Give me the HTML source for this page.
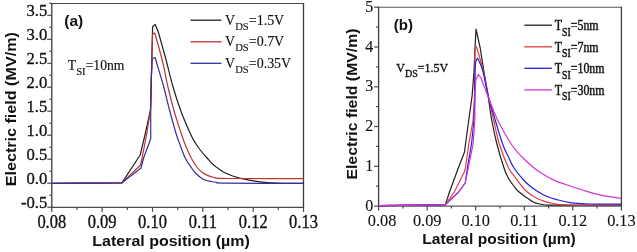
<!DOCTYPE html>
<html><head><meta charset="utf-8"><style>
html,body{margin:0;padding:0;background:#fff;width:637px;height:252px;overflow:hidden}
svg{display:block;-webkit-font-smoothing:antialiased;filter:blur(0.25px)}
.tk{font-family:"Liberation Serif",serif;font-size:16px;fill:#111;stroke:#111;stroke-width:0.3px}
.ax{font-family:"Liberation Sans",sans-serif;font-weight:bold;font-size:15px;fill:#111}
.lbl{font-family:"Liberation Sans",sans-serif;font-weight:bold;font-size:15px;fill:#111}
.lg{font-family:"Liberation Serif",serif;font-size:14.5px;fill:#111;stroke:#111;stroke-width:0.25px}
.lg2{font-family:"Liberation Serif",serif;font-size:13px;fill:#1a1a1a}
.sub{font-size:10px}
</style></head><body>
<svg width="637" height="252" viewBox="0 0 637 252">
<rect width="637" height="252" fill="#fff"/>
<path d="M51.199999999999996,3.55 H304.1 M51.199999999999996,207.4 H304.1" stroke="#4a4a4a" stroke-width="1.1" fill="none"/>
<path d="M51.8,2.9 V207.9 M303.5,2.9 V207.9" stroke="#3c3c3c" stroke-width="1.3" fill="none"/>
<line x1="47.3" y1="207.2" x2="51.8" y2="207.2" stroke="#484848" stroke-width="1.2"/>
<line x1="47.3" y1="183.2" x2="51.8" y2="183.2" stroke="#484848" stroke-width="1.2"/>
<line x1="47.3" y1="159.2" x2="51.8" y2="159.2" stroke="#484848" stroke-width="1.2"/>
<line x1="47.3" y1="135.2" x2="51.8" y2="135.2" stroke="#484848" stroke-width="1.2"/>
<line x1="47.3" y1="111.2" x2="51.8" y2="111.2" stroke="#484848" stroke-width="1.2"/>
<line x1="47.3" y1="87.2" x2="51.8" y2="87.2" stroke="#484848" stroke-width="1.2"/>
<line x1="47.3" y1="63.3" x2="51.8" y2="63.3" stroke="#484848" stroke-width="1.2"/>
<line x1="47.3" y1="39.3" x2="51.8" y2="39.3" stroke="#484848" stroke-width="1.2"/>
<line x1="47.3" y1="15.3" x2="51.8" y2="15.3" stroke="#484848" stroke-width="1.2"/>
<line x1="49.3" y1="195.2" x2="51.8" y2="195.2" stroke="#484848" stroke-width="1.2"/>
<line x1="49.3" y1="171.2" x2="51.8" y2="171.2" stroke="#484848" stroke-width="1.2"/>
<line x1="49.3" y1="147.2" x2="51.8" y2="147.2" stroke="#484848" stroke-width="1.2"/>
<line x1="49.3" y1="123.2" x2="51.8" y2="123.2" stroke="#484848" stroke-width="1.2"/>
<line x1="49.3" y1="99.2" x2="51.8" y2="99.2" stroke="#484848" stroke-width="1.2"/>
<line x1="49.3" y1="75.3" x2="51.8" y2="75.3" stroke="#484848" stroke-width="1.2"/>
<line x1="49.3" y1="51.3" x2="51.8" y2="51.3" stroke="#484848" stroke-width="1.2"/>
<line x1="49.3" y1="27.3" x2="51.8" y2="27.3" stroke="#484848" stroke-width="1.2"/>
<line x1="49.3" y1="3.3" x2="51.8" y2="3.3" stroke="#484848" stroke-width="1.2"/>
<text transform="translate(47.2,208.0) scale(1.04,1.1)" text-anchor="end" class="tk">-0.5</text>
<text transform="translate(47.2,184.0) scale(1.04,1.1)" text-anchor="end" class="tk">0.0</text>
<text transform="translate(47.2,160.0) scale(1.04,1.1)" text-anchor="end" class="tk">0.5</text>
<text transform="translate(47.2,136.0) scale(1.04,1.1)" text-anchor="end" class="tk">1.0</text>
<text transform="translate(47.2,112.0) scale(1.04,1.1)" text-anchor="end" class="tk">1.5</text>
<text transform="translate(47.2,88.0) scale(1.04,1.1)" text-anchor="end" class="tk">2.0</text>
<text transform="translate(47.2,64.1) scale(1.04,1.1)" text-anchor="end" class="tk">2.5</text>
<text transform="translate(47.2,40.1) scale(1.04,1.1)" text-anchor="end" class="tk">3.0</text>
<text transform="translate(47.2,16.1) scale(1.04,1.1)" text-anchor="end" class="tk">3.5</text>
<line x1="51.8" y1="207.4" x2="51.8" y2="211.9" stroke="#484848" stroke-width="1.2"/>
<line x1="102.1" y1="207.4" x2="102.1" y2="211.9" stroke="#484848" stroke-width="1.2"/>
<line x1="152.5" y1="207.4" x2="152.5" y2="211.9" stroke="#484848" stroke-width="1.2"/>
<line x1="202.8" y1="207.4" x2="202.8" y2="211.9" stroke="#484848" stroke-width="1.2"/>
<line x1="253.2" y1="207.4" x2="253.2" y2="211.9" stroke="#484848" stroke-width="1.2"/>
<line x1="303.5" y1="207.4" x2="303.5" y2="211.9" stroke="#484848" stroke-width="1.2"/>
<line x1="77.0" y1="207.4" x2="77.0" y2="209.9" stroke="#484848" stroke-width="1.2"/>
<line x1="127.3" y1="207.4" x2="127.3" y2="209.9" stroke="#484848" stroke-width="1.2"/>
<line x1="177.7" y1="207.4" x2="177.7" y2="209.9" stroke="#484848" stroke-width="1.2"/>
<line x1="228.0" y1="207.4" x2="228.0" y2="209.9" stroke="#484848" stroke-width="1.2"/>
<line x1="278.3" y1="207.4" x2="278.3" y2="209.9" stroke="#484848" stroke-width="1.2"/>
<text transform="translate(51.8,227.6) scale(1.03,1.125)" text-anchor="middle" class="tk">0.08</text>
<text transform="translate(102.1,227.6) scale(1.03,1.125)" text-anchor="middle" class="tk">0.09</text>
<text transform="translate(152.5,227.6) scale(1.03,1.125)" text-anchor="middle" class="tk">0.10</text>
<text transform="translate(202.8,227.6) scale(1.03,1.125)" text-anchor="middle" class="tk">0.11</text>
<text transform="translate(253.2,227.6) scale(1.03,1.125)" text-anchor="middle" class="tk">0.12</text>
<text transform="translate(303.5,227.6) scale(1.03,1.125)" text-anchor="middle" class="tk">0.13</text>
<text x="92.3" y="246" class="ax" textLength="157.5" lengthAdjust="spacingAndGlyphs">Lateral position (µm)</text>
<text transform="translate(15.6,186.3) rotate(-90)" class="ax" textLength="154.2" lengthAdjust="spacingAndGlyphs">Electric field (MV/m)</text>
<text x="64.3" y="26.4" class="lbl" style="font-size:15.5px">(a)</text>
<text transform="translate(67.8,70.3) scale(0.975,1)" class="lg" style="font-size:14px;stroke-width:0.15px">T<tspan style="font-size:11px" dy="4.4">SI</tspan><tspan dy="-4.4">=10nm</tspan></text>
<line x1="190.5" y1="20.2" x2="221.5" y2="20.2" stroke="#202020" stroke-width="1.3"/>
<text transform="translate(225.1,24.6) scale(0.965,1)" class="lg" style="font-size:14.5px;stroke-width:0.12px">V<tspan style="font-size:11px" dy="5">DS</tspan><tspan dy="-5">=1.5V</tspan></text>
<line x1="190.5" y1="41.8" x2="221.5" y2="41.8" stroke="#bc3434" stroke-width="1.3"/>
<text transform="translate(225.1,46.1) scale(0.965,1)" class="lg" style="font-size:14.5px;stroke-width:0.12px">V<tspan style="font-size:11px" dy="5">DS</tspan><tspan dy="-5">=0.7V</tspan></text>
<line x1="190.5" y1="63.3" x2="221.5" y2="63.3" stroke="#30309a" stroke-width="1.3"/>
<text transform="translate(225.1,67.7) scale(0.965,1)" class="lg" style="font-size:14.5px;stroke-width:0.12px">V<tspan style="font-size:11px" dy="5">DS</tspan><tspan dy="-5">=0.35V</tspan></text>
<path d="M51.80,183.40 L88.00,183.20 L121.90,182.90 L140.20,155.00 L145.20,134.00 L150.50,110.00 L151.30,80.00 L152.60,26.70 L155.20,24.40 L158.30,32.00 C158.58,33.00 158.62,33.00 160.00,38.00 C161.38,43.00 164.47,54.00 166.60,62.00 C168.73,70.00 170.48,78.00 172.80,86.00 C175.12,94.00 177.55,102.00 180.50,110.00 C183.45,118.00 187.97,128.42 190.50,134.00 C193.03,139.58 193.95,140.67 195.70,143.50 C197.45,146.33 199.10,148.58 201.00,151.00 C202.90,153.42 205.27,155.92 207.10,158.00 C208.93,160.08 210.25,161.83 212.00,163.50 C213.75,165.17 215.77,166.62 217.60,168.00 C219.43,169.38 221.02,170.68 223.00,171.80 C224.98,172.92 227.33,173.83 229.50,174.70 C231.67,175.57 233.92,176.35 236.00,177.00 C238.08,177.65 238.33,177.83 242.00,178.60 C245.67,179.37 252.33,180.85 258.00,181.60 C263.67,182.35 268.42,182.82 276.00,183.10 C283.58,183.38 298.92,183.27 303.50,183.30" fill="none" stroke="#202020" stroke-width="1.2" stroke-linejoin="round"/>
<path d="M51.80,183.40 L88.00,183.20 L121.90,182.90 L140.50,165.00 L142.10,158.00 L146.70,134.00 L150.50,110.00 L151.30,80.00 L152.20,45.00 L152.60,34.20 L154.70,32.90 L156.20,38.00 C157.28,42.00 160.78,54.00 162.70,62.00 C164.62,70.00 165.85,78.00 167.70,86.00 C169.55,94.00 171.52,102.00 173.80,110.00 C176.08,118.00 179.42,128.00 181.40,134.00 C183.38,140.00 184.07,142.00 185.70,146.00 C187.33,150.00 189.22,154.33 191.20,158.00 C193.18,161.67 195.72,165.58 197.60,168.00 C199.48,170.42 200.75,171.23 202.50,172.50 C204.25,173.77 206.18,174.77 208.10,175.60 C210.02,176.43 212.18,177.05 214.00,177.50 C215.82,177.95 216.33,178.13 219.00,178.30 C221.67,178.47 215.92,178.45 230.00,178.50 C244.08,178.55 291.25,178.58 303.50,178.60" fill="none" stroke="#bc3434" stroke-width="1.2" stroke-linejoin="round"/>
<path d="M51.80,183.40 L88.00,183.20 L121.90,182.90 L141.00,168.00 L143.60,158.00 L150.70,138.80 L150.70,110.00 L151.30,80.00 L152.20,58.50 L155.20,57.60 L156.40,62.00 C157.58,66.00 161.32,78.00 163.50,86.00 C165.68,94.00 167.38,102.00 169.50,110.00 C171.62,118.00 174.37,128.00 176.20,134.00 C178.03,140.00 179.00,142.00 180.50,146.00 C182.00,150.00 183.30,154.25 185.20,158.00 C187.10,161.75 190.10,165.92 191.90,168.50 C193.70,171.08 194.57,172.00 196.00,173.50 C197.43,175.00 199.00,176.42 200.50,177.50 C202.00,178.58 203.25,179.33 205.00,180.00 C206.75,180.67 208.90,181.08 211.00,181.50 C213.10,181.92 215.27,182.22 217.60,182.50 C219.93,182.78 210.68,183.07 225.00,183.20 C239.32,183.33 290.42,183.28 303.50,183.30" fill="none" stroke="#30309a" stroke-width="1.2" stroke-linejoin="round"/>
<path d="M378.0,7.20 H622.0 M378.0,206.10 H622.0" stroke="#5a5a5a" stroke-width="1.1" fill="none"/>
<path d="M378.6,6.70 V206.60 M621.4,6.70 V206.60" stroke="#3c3c3c" stroke-width="1.3" fill="none"/>
<line x1="374.1" y1="206.1" x2="378.6" y2="206.1" stroke="#484848" stroke-width="1.2"/>
<text transform="translate(373.3,210.7) scale(1.0,1.07)" text-anchor="end" class="tk" style="stroke-width:0.1px">0</text>
<line x1="374.1" y1="166.3" x2="378.6" y2="166.3" stroke="#484848" stroke-width="1.2"/>
<text transform="translate(373.3,170.9) scale(1.0,1.07)" text-anchor="end" class="tk" style="stroke-width:0.1px">1</text>
<line x1="374.1" y1="126.5" x2="378.6" y2="126.5" stroke="#484848" stroke-width="1.2"/>
<text transform="translate(373.3,131.1) scale(1.0,1.07)" text-anchor="end" class="tk" style="stroke-width:0.1px">2</text>
<line x1="374.1" y1="86.8" x2="378.6" y2="86.8" stroke="#484848" stroke-width="1.2"/>
<text transform="translate(373.3,91.4) scale(1.0,1.07)" text-anchor="end" class="tk" style="stroke-width:0.1px">3</text>
<line x1="374.1" y1="47.0" x2="378.6" y2="47.0" stroke="#484848" stroke-width="1.2"/>
<text transform="translate(373.3,51.6) scale(1.0,1.07)" text-anchor="end" class="tk" style="stroke-width:0.1px">4</text>
<line x1="374.1" y1="7.2" x2="378.6" y2="7.2" stroke="#484848" stroke-width="1.2"/>
<text transform="translate(373.3,11.8) scale(1.0,1.07)" text-anchor="end" class="tk" style="stroke-width:0.1px">5</text>
<line x1="376.1" y1="186.2" x2="378.6" y2="186.2" stroke="#484848" stroke-width="1.2"/>
<line x1="376.1" y1="146.4" x2="378.6" y2="146.4" stroke="#484848" stroke-width="1.2"/>
<line x1="376.1" y1="106.6" x2="378.6" y2="106.6" stroke="#484848" stroke-width="1.2"/>
<line x1="376.1" y1="66.9" x2="378.6" y2="66.9" stroke="#484848" stroke-width="1.2"/>
<line x1="376.1" y1="27.1" x2="378.6" y2="27.1" stroke="#484848" stroke-width="1.2"/>
<line x1="378.6" y1="206.1" x2="378.6" y2="210.6" stroke="#484848" stroke-width="1.2"/>
<line x1="427.2" y1="206.1" x2="427.2" y2="210.6" stroke="#484848" stroke-width="1.2"/>
<line x1="475.7" y1="206.1" x2="475.7" y2="210.6" stroke="#484848" stroke-width="1.2"/>
<line x1="524.3" y1="206.1" x2="524.3" y2="210.6" stroke="#484848" stroke-width="1.2"/>
<line x1="572.8" y1="206.1" x2="572.8" y2="210.6" stroke="#484848" stroke-width="1.2"/>
<line x1="621.4" y1="206.1" x2="621.4" y2="210.6" stroke="#484848" stroke-width="1.2"/>
<line x1="402.9" y1="206.1" x2="402.9" y2="208.6" stroke="#484848" stroke-width="1.2"/>
<line x1="451.4" y1="206.1" x2="451.4" y2="208.6" stroke="#484848" stroke-width="1.2"/>
<line x1="500.0" y1="206.1" x2="500.0" y2="208.6" stroke="#484848" stroke-width="1.2"/>
<line x1="548.6" y1="206.1" x2="548.6" y2="208.6" stroke="#484848" stroke-width="1.2"/>
<line x1="597.1" y1="206.1" x2="597.1" y2="208.6" stroke="#484848" stroke-width="1.2"/>
<text transform="translate(382.1,225.5) scale(1.02,1.07)" text-anchor="middle" class="tk" style="stroke-width:0.1px">0.08</text>
<text transform="translate(427.2,225.5) scale(1.02,1.07)" text-anchor="middle" class="tk" style="stroke-width:0.1px">0.09</text>
<text transform="translate(475.7,225.5) scale(1.02,1.07)" text-anchor="middle" class="tk" style="stroke-width:0.1px">0.10</text>
<text transform="translate(524.3,225.5) scale(1.02,1.07)" text-anchor="middle" class="tk" style="stroke-width:0.1px">0.11</text>
<text transform="translate(572.8,225.5) scale(1.02,1.07)" text-anchor="middle" class="tk" style="stroke-width:0.1px">0.12</text>
<text transform="translate(621.4,225.5) scale(1.02,1.07)" text-anchor="middle" class="tk" style="stroke-width:0.1px">0.13</text>
<text x="422.3" y="244.1" class="ax" textLength="153.4" lengthAdjust="spacingAndGlyphs">Lateral position (µm)</text>
<text transform="translate(357.2,179.6) rotate(-90)" class="ax" textLength="151.2" lengthAdjust="spacingAndGlyphs">Electric field (MV/m)</text>
<text x="393.8" y="30.4" class="lbl">(b)</text>
<text transform="translate(396.3,72.1) scale(0.92,1)" class="lg" style="font-size:13px;stroke-width:0.35px">V<tspan style="font-size:11px" dy="5">DS</tspan><tspan dy="-5">=1.5V</tspan></text>
<line x1="524.3" y1="25.2" x2="551.9" y2="25.2" stroke="#202020" stroke-width="1.3"/>
<text transform="translate(554.8,30.2) scale(0.85,1.02)" class="lg" style="font-size:14px;stroke-width:0.45px">T<tspan style="font-size:11.5px" dy="5.3">SI</tspan><tspan dy="-5.3">=5nm</tspan></text>
<line x1="524.3" y1="46.8" x2="551.9" y2="46.8" stroke="#e23c3c" stroke-width="1.3"/>
<text transform="translate(554.8,51.8) scale(0.85,1.02)" class="lg" style="font-size:14px;stroke-width:0.45px">T<tspan style="font-size:11.5px" dy="5.3">SI</tspan><tspan dy="-5.3">=7nm</tspan></text>
<line x1="524.3" y1="68.3" x2="551.9" y2="68.3" stroke="#2222dd" stroke-width="1.3"/>
<text transform="translate(554.8,73.3) scale(0.85,1.02)" class="lg" style="font-size:14px;stroke-width:0.45px">T<tspan style="font-size:11.5px" dy="5.3">SI</tspan><tspan dy="-5.3">=10nm</tspan></text>
<line x1="524.3" y1="89.9" x2="551.9" y2="89.9" stroke="#d434d4" stroke-width="1.3"/>
<text transform="translate(554.8,94.9) scale(0.85,1.02)" class="lg" style="font-size:14px;stroke-width:0.45px">T<tspan style="font-size:11.5px" dy="5.3">SI</tspan><tspan dy="-5.3">=30nm</tspan></text>
<path d="M378.60,205.60 L420.00,205.20 L445.40,204.60 L449.50,192.00 L458.30,168.00 L464.50,152.00 L465.50,144.00 L468.80,120.00 L472.10,96.00 L474.00,72.00 L475.00,48.00 L476.00,29.20 L480.20,48.00 C480.83,52.00 482.68,64.00 484.00,72.00 C485.32,80.00 486.82,88.00 488.10,96.00 C489.38,104.00 490.23,112.00 491.70,120.00 C493.17,128.00 494.85,136.00 496.90,144.00 C498.95,152.00 502.10,162.33 504.00,168.00 C505.90,173.67 506.67,175.00 508.30,178.00 C509.93,181.00 512.10,183.75 513.80,186.00 C515.50,188.25 516.63,189.75 518.50,191.50 C520.37,193.25 522.45,194.72 525.00,196.50 C527.55,198.28 531.30,200.95 533.80,202.20 C536.30,203.45 537.93,203.53 540.00,204.00 C542.07,204.47 542.87,204.80 546.20,205.00 C549.53,205.20 547.47,205.15 560.00,205.20 C572.53,205.25 611.17,205.28 621.40,205.30" fill="none" stroke="#202020" stroke-width="1.2" stroke-linejoin="round"/>
<path d="M378.60,205.60 L420.00,205.20 L445.40,204.60 L454.30,192.00 L464.30,172.00 L465.50,168.00 L468.80,144.00 L473.10,120.00 L474.50,96.00 L474.80,72.00 L475.00,48.00 L476.00,46.40 L476.90,48.00 C478.02,52.00 481.70,64.00 483.60,72.00 C485.50,80.00 486.63,88.00 488.30,96.00 C489.97,104.00 491.77,112.00 493.60,120.00 C495.43,128.00 496.80,136.00 499.30,144.00 C501.80,152.00 505.98,162.50 508.60,168.00 C511.22,173.50 512.83,174.00 515.00,177.00 C517.17,180.00 519.47,183.42 521.60,186.00 C523.73,188.58 525.73,190.70 527.80,192.50 C529.87,194.30 531.73,195.50 534.00,196.80 C536.27,198.10 538.25,199.18 541.40,200.30 C544.55,201.42 548.13,202.72 552.90,203.50 C557.67,204.28 558.58,204.72 570.00,205.00 C581.42,205.28 612.83,205.17 621.40,205.20" fill="none" stroke="#e23c3c" stroke-width="1.2" stroke-linejoin="round"/>
<path d="M378.60,205.60 L420.00,205.20 L445.40,204.60 L458.60,192.00 L465.20,183.00 L467.40,168.00 L471.50,144.00 L474.00,120.00 L474.80,96.00 L475.00,72.00 L475.60,62.00 L477.40,58.00 L479.50,62.00 C480.10,63.67 481.63,66.33 483.10,72.00 C484.57,77.67 486.28,88.00 488.30,96.00 C490.32,104.00 492.82,112.00 495.20,120.00 C497.58,128.00 500.47,138.00 502.60,144.00 C504.73,150.00 506.10,152.00 508.00,156.00 C509.90,160.00 511.40,164.00 514.00,168.00 C516.60,172.00 520.93,177.00 523.60,180.00 C526.27,183.00 527.52,184.00 530.00,186.00 C532.48,188.00 535.83,190.33 538.50,192.00 C541.17,193.67 543.13,194.78 546.00,196.00 C548.87,197.22 551.70,198.20 555.70,199.30 C559.70,200.40 564.28,201.82 570.00,202.60 C575.72,203.38 581.43,203.73 590.00,204.00 C598.57,204.27 616.17,204.17 621.40,204.20" fill="none" stroke="#2222dd" stroke-width="1.2" stroke-linejoin="round"/>
<path d="M378.60,205.60 L420.00,205.20 L445.40,204.60 L458.60,192.00 L465.20,183.00 L468.30,168.00 L473.10,144.00 L474.80,120.00 L475.00,96.00 L475.80,80.00 L478.30,74.40 L481.00,78.00 C481.50,79.33 482.85,83.00 484.00,86.00 C485.15,89.00 485.63,90.33 487.90,96.00 C490.17,101.67 493.72,112.00 497.60,120.00 C501.48,128.00 507.30,138.00 511.20,144.00 C515.10,150.00 517.20,152.00 521.00,156.00 C524.80,160.00 530.40,165.00 534.00,168.00 C537.60,171.00 539.18,171.93 542.60,174.00 C546.02,176.07 550.77,178.68 554.50,180.40 C558.23,182.12 560.08,182.62 565.00,184.30 C569.92,185.98 577.65,188.60 584.00,190.50 C590.35,192.40 596.90,194.40 603.10,195.70 C609.30,197.00 618.18,197.87 621.20,198.30" fill="none" stroke="#d434d4" stroke-width="1.2" stroke-linejoin="round"/>
</svg>
</body></html>
